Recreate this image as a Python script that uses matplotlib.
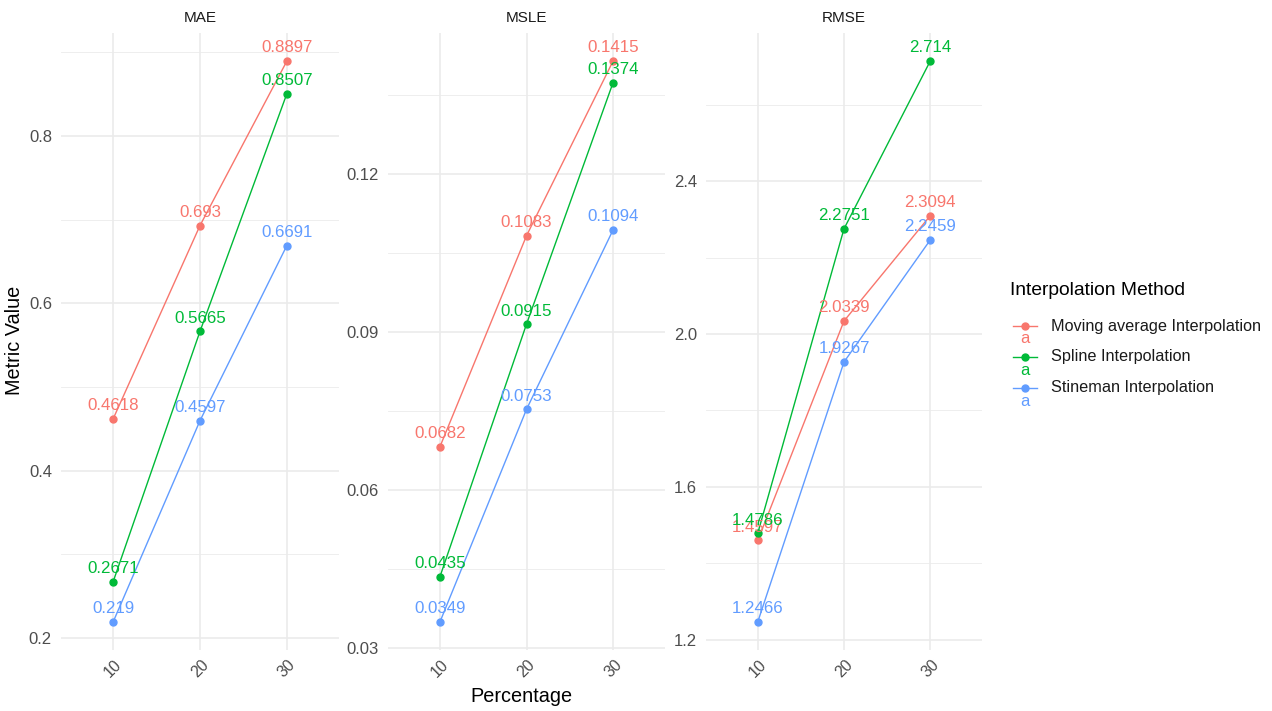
import numpy as np
import matplotlib.pyplot as plt
from matplotlib.lines import Line2D

plt.rcParams["font.family"] = ["Liberation Sans", "DejaVu Sans"]

# data
percentages = ["10", "20", "30"]
metrics = ["MAE", "MSLE", "RMSE"]
methods = ["Moving average Interpolation", "Spline Interpolation", "Stineman Interpolation"]
colors = ["#F8766D", "#00BA38", "#619CFF"]

mae = {
    "Moving average Interpolation": [0.4618, 0.693, 0.8897],
    "Spline Interpolation": [0.2671, 0.5665, 0.8507],
    "Stineman Interpolation": [0.219, 0.4597, 0.6691],
}
msle = {
    "Moving average Interpolation": [0.0682, 0.1083, 0.1415],
    "Spline Interpolation": [0.0435, 0.0915, 0.1374],
    "Stineman Interpolation": [0.0349, 0.0753, 0.1094],
}
rmse = {
    "Moving average Interpolation": [1.4597, 2.0339, 2.3094],
    "Spline Interpolation": [1.4786, 2.2751, 2.714],
    "Stineman Interpolation": [1.2466, 1.9267, 2.2459],
}
values = {"MAE": mae, "MSLE": msle, "RMSE": rmse}

major_ticks = {
    "MAE": [0.2, 0.4, 0.6, 0.8],
    "MSLE": [0.03, 0.06, 0.09, 0.12],
    "RMSE": [1.2, 1.6, 2.0, 2.4],
}
tick_fmt = {"MAE": "{:.1f}", "MSLE": "{:.2f}", "RMSE": "{:.1f}"}

W, H = 1272, 711
fig = plt.figure(figsize=(W / 100, H / 100), dpi=100)

panel_x = [(61, 339), (388, 665), (706, 982)]
top, bottom = 33, 650
grid_col = "#EBEBEB"

for (x0, x1), metric in zip(panel_x, metrics):
    ax = fig.add_axes([x0 / W, 1 - bottom / H, (x1 - x0) / W, (bottom - top) / H])
    data = values[metric]
    xs = np.arange(len(percentages))
    allv = np.concatenate([np.array(v) for v in data.values()])
    lo, hi = allv.min(), allv.max()
    pad = (hi - lo) * 0.05
    ax.set_ylim(lo - pad, hi + pad)
    ax.set_xlim(-0.6, len(percentages) - 0.4)

    # ggplot-like grid
    majors = major_ticks[metric]
    step = majors[1] - majors[0]
    minors = [m - step / 2 for m in majors] + [majors[-1] + step / 2]
    for m in minors:
        ax.axhline(m, color=grid_col, lw=0.6, zorder=0)
    for m in majors:
        ax.axhline(m, color=grid_col, lw=1.2, zorder=0)
    for x in xs:
        ax.axvline(x, color=grid_col, lw=1.2, zorder=0)

    for method, col in zip(methods, colors):
        ys = data[method]
        ax.plot(xs, ys, color=col, lw=1.0, marker="o", ms=5, zorder=3)
        for x, y in zip(xs, ys):
            ax.annotate(f"{y:g}", (x, y), xytext=(0, 4), textcoords="offset points",
                        ha="center", va="bottom", color=col, fontsize=12.2, zorder=4)

    ax.set_yticks(majors)
    ax.set_yticklabels([tick_fmt[metric].format(m) for m in majors])
    ax.set_xticks(xs)
    ax.set_xticklabels(percentages, rotation=45, ha="center", va="top")
    ax.tick_params(axis="y", length=0, labelsize=12, labelcolor="#4D4D4D", pad=6.5)
    ax.tick_params(axis="x", length=0, labelsize=11.5, labelcolor="#4D4D4D", pad=5)
    for s in ax.spines.values():
        s.set_visible(False)
    ax.set_facecolor("none")
    ax.set_title(metric, fontsize=11, color="#1A1A1A", pad=8)

fig.text(15 / W, 1 - 340 / H, "Metric Value", rotation=90, ha="center", va="center", fontsize=14.3)
fig.text(521 / W, 1 - 696 / H, "Percentage", ha="center", va="center", fontsize=14.3)

# legend
fig.text(1010 / W, 1 - 290 / H, "Interpolation Method", ha="left", va="center", fontsize=13.9)
for i, (method, col) in enumerate(zip(methods, colors)):
    yk = 326 + i * 31
    fig.add_artist(Line2D([1013 / W, 1037 / W], [1 - yk / H, 1 - yk / H], color=col, lw=1.0,
                          transform=fig.transFigure))
    fig.add_artist(Line2D([1025 / W], [1 - yk / H], color=col, marker="o", ms=5,
                          transform=fig.transFigure))
    fig.text(1025 / W, 1 - (yk + 13) / H, "a", color=col, ha="center", va="center", fontsize=12)
    fig.text(1051 / W, 1 - yk / H, method, ha="left", va="center", fontsize=11.7, color="#1A1A1A")

fig.savefig("out.png", dpi=100, facecolor="white")
